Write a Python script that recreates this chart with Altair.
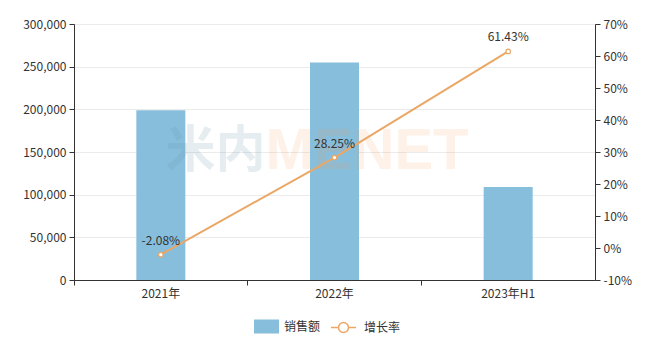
import altair as alt
import pandas as pd

categories = ["2021年", "2022年", "2023年H1"]
sales = [199000, 255000, 109000]
growth = [-2.08, 28.25, 61.43]
growth_labels = ["-2.08%", "28.25%", "61.43%"]

BAR = "#87bedc"
LINE = "#eaa766"
FONT = "Noto Sans CJK SC"
TXT = "#333333"

df = pd.DataFrame({
    "cat": categories,
    "sales": sales,
    "growth": growth,
    "glabel": growth_labels,
    "s1": ["销售额"] * 3,
    "s2": ["增长率"] * 3,
})
wm = pd.DataFrame({"cat": ["2022年", "2022年"], "sales": [150000, 150000],
                   "t": ["米内", "MENET"]})

x = alt.X("cat:N", sort=categories, title=None,
          scale=alt.Scale(paddingInner=0, paddingOuter=0),
          axis=alt.Axis(labelAngle=0, bandPosition=0, labelFontSize=12, labelColor=TXT,
                        labelFont=FONT, domainColor=TXT, tickColor=TXT, tickSize=5,
                        labelPadding=3, grid=False, labelBound=False))

yl = alt.Y("sales:Q", title=None,
           scale=alt.Scale(domain=[0, 300000], nice=False),
           axis=alt.Axis(values=[0, 50000, 100000, 150000, 200000, 250000, 300000],
                         labelExpr="format(datum.value, ',')", labelOverlap=False,
                         labelFontSize=12, labelColor=TXT, labelFont=FONT,
                         domainColor=TXT, tickColor=TXT, tickSize=5, labelPadding=3,
                         gridColor="#ebebeb", grid=True))

base = alt.Chart(df)

bars = base.mark_bar(size=49).encode(
    x=x,
    y=yl,
    color=alt.Color("s1:N", scale=alt.Scale(domain=["销售额"], range=[BAR]),
                    legend=alt.Legend(title=None, orient="none", legendX=180, legendY=290,
                                      symbolType="M-1,-0.56H1V0.56H-1Z", symbolSize=625,
                                      symbolStrokeWidth=0, labelFontSize=12, labelColor=TXT,
                                      labelFont=FONT, labelOffset=5, padding=0)),
)

wm_base = alt.Chart(wm)
wm1 = wm_base.transform_filter(alt.datum.t == "米内").mark_text(
    align="right", baseline="middle", dx=-69, fontSize=50, fontWeight="bold",
    font=FONT, color="#6d98b3", opacity=0.17).encode(x=x, y=yl, text="t:N")
wm2 = wm_base.transform_filter(alt.datum.t == "MENET").mark_text(
    align="left", baseline="middle", dx=-69, fontSize=58, fontWeight="bold",
    font="Liberation Sans", color="#f4a060", opacity=0.14).encode(x=x, y=yl, text="t:N")

left = alt.layer(bars, wm1, wm2)

yr = alt.Y("growth:Q", title=None,
           scale=alt.Scale(domain=[-10, 70], nice=False),
           axis=alt.Axis(orient="right", values=[-10, 0, 10, 20, 30, 40, 50, 60, 70],
                         labelExpr="datum.value + '%'", labelOverlap=False,
                         labelFontSize=12, labelColor=TXT,
                         labelFont=FONT, domainColor=TXT, tickColor=TXT, tickSize=5,
                         labelPadding=3, grid=False))

line = base.mark_line(strokeWidth=2).encode(
    x=x,
    y=yr,
    stroke=alt.Stroke("s2:N", scale=alt.Scale(domain=["增长率"], range=[LINE]),
                      legend=alt.Legend(title=None, orient="none", legendX=256, legendY=290,
                                        symbolType="M-1,0H-0.4M0.4,0H1M-0.4,0A0.4,0.4 0 1,0 0.4,0A0.4,0.4 0 1,0 -0.4,0",
                                        symbolSize=625, symbolFillColor="white",
                                        symbolStrokeWidth=1.5, labelFontSize=12,
                                        labelColor=TXT, labelFont=FONT, labelOffset=7,
                                        padding=0)),
)
pts = base.mark_point(filled=True, fill="white", stroke=LINE, strokeWidth=1.2, size=20,
                      opacity=1).encode(x=x, y=yr)
labels = base.mark_text(dy=-14, fontSize=12, color=TXT, font=FONT).encode(
    x=x, y=yr, text="glabel:N")

right = alt.layer(line, pts, labels)

chart = alt.layer(left, right).resolve_scale(y="independent").properties(
    width=521, height=256,
    autosize=alt.AutoSizeParams(type="none"),
    padding={"left": 74, "top": 24, "right": 59, "bottom": 65},
).configure_view(stroke=None).configure(background="white")

chart.save("out.html", embed_options={"renderer": "svg", "actions": False})
